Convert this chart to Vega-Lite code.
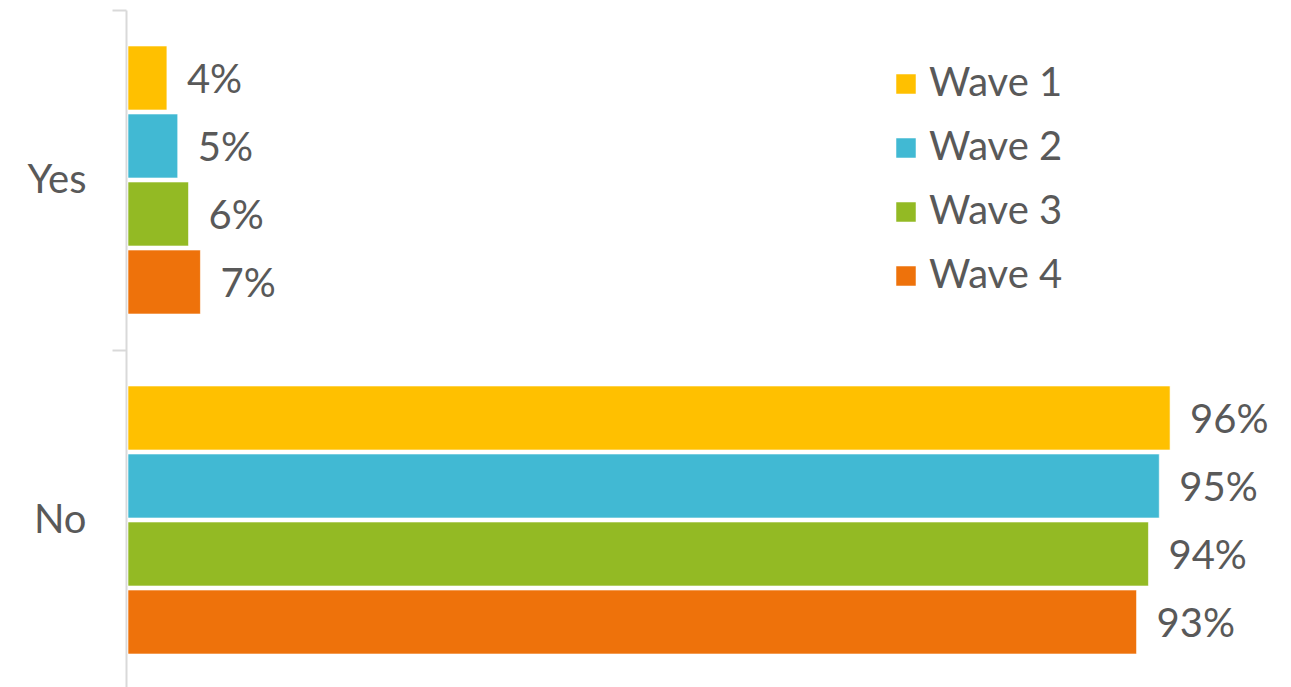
{
  "$schema": "https://vega.github.io/schema/vega-lite/v6.json",
  "autosize": {"type": "none"},
  "width": 1081,
  "height": 677,
  "padding": {"left": 128, "top": 10, "right": 82, "bottom": 0},
  "background": "#ffffff",
  "config": {
    "view": {"stroke": null},
    "font": "Lato"
  },
  "data": {
    "values": [
      {"answer": "Yes", "wave": "Wave 1", "value": 0.036},
      {"answer": "Yes", "wave": "Wave 2", "value": 0.046},
      {"answer": "Yes", "wave": "Wave 3", "value": 0.056},
      {"answer": "Yes", "wave": "Wave 4", "value": 0.067},
      {"answer": "No", "wave": "Wave 1", "value": 0.964},
      {"answer": "No", "wave": "Wave 2", "value": 0.954},
      {"answer": "No", "wave": "Wave 3", "value": 0.944},
      {"answer": "No", "wave": "Wave 4", "value": 0.933}
    ]
  },
  "encoding": {
    "y": {
      "field": "answer",
      "type": "nominal",
      "sort": ["Yes", "No"],
      "scale": {"range": [0, 680], "paddingInner": 0, "paddingOuter": 0},
      "axis": {
        "title": null,
        "tickBand": "extent",
        "offset": 2,
        "domainColor": "#d9d9d9",
        "domainWidth": 2,
        "tickColor": "#d9d9d9",
        "tickWidth": 2,
        "tickSize": 14,
        "labelPadding": 26,
        "labelFontSize": 40,
        "labelColor": "#595959",
        "labelFont": "Lato"
      }
    },
    "yOffset": {
      "field": "wave",
      "type": "nominal",
      "scale": {"paddingInner": 0.0588, "paddingOuter": 0.529}
    },
    "x": {
      "field": "value",
      "type": "quantitative",
      "scale": {"domain": [0, 1], "nice": false},
      "axis": null
    }
  },
  "layer": [
    {
      "mark": {"type": "bar", "stroke": "#ffffff", "strokeWidth": 1, "strokeOpacity": 0.6},
      "encoding": {
        "color": {
          "field": "wave",
          "type": "nominal",
          "scale": {
            "domain": ["Wave 1", "Wave 2", "Wave 3", "Wave 4"],
            "range": ["#ffc000", "#41b9d3", "#93ba24", "#ee720b"]
          },
          "legend": {
            "title": null,
            "orient": "none",
            "legendX": 758,
            "legendY": 54,
            "padding": 0,
            "symbolType": "square",
            "symbolSize": 380,
            "symbolStrokeWidth": 0,
            "labelFontSize": 40,
            "labelColor": "#595959",
            "labelFont": "Lato",
            "labelOffset": 3,
            "rowPadding": 24
          }
        }
      }
    },
    {
      "mark": {"type": "text", "align": "left", "baseline": "middle", "dx": 20, "dy": 3, "fontSize": 40, "color": "#595959", "font": "Lato"},
      "encoding": {
        "text": {"field": "value", "type": "quantitative", "format": ".0%"}
      }
    }
  ]
}
